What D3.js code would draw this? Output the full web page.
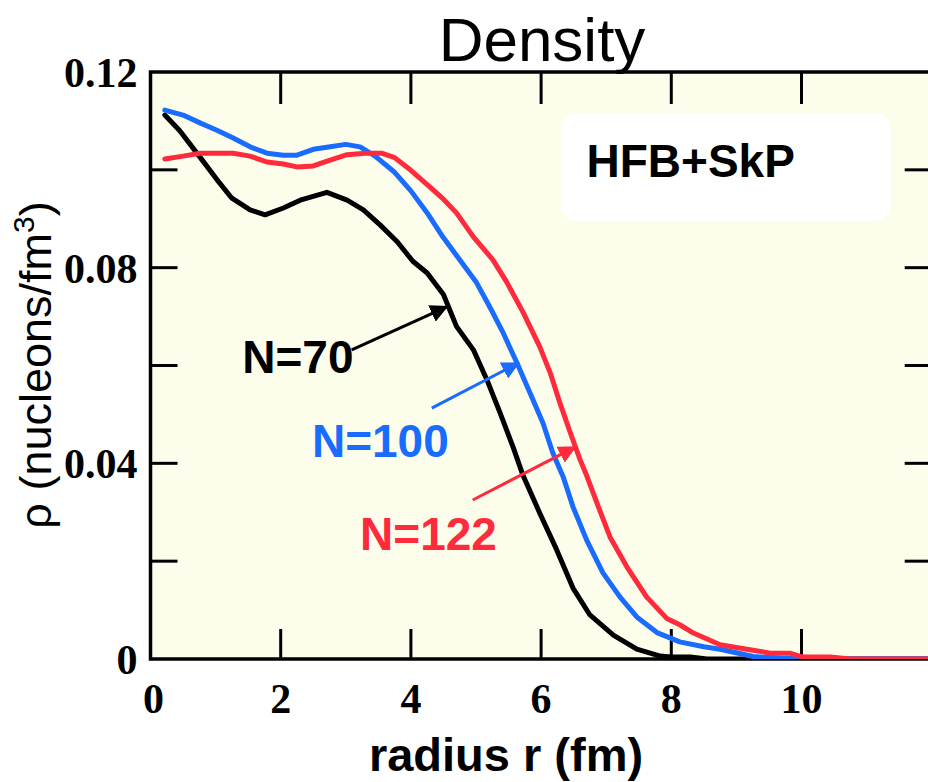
<!DOCTYPE html>
<html>
<head>
<meta charset="utf-8">
<script src="https://cdn.jsdelivr.net/npm/d3@7"></script>
<style>
  body { margin: 0; background: #ffffff; }
  svg { display: block; }
</style>
</head>
<body>
<div id="density_chart"></div>
<script>
// radius (fm) and density (nucleons/fm^3)
var rN70   = [0.22,0.45,0.76,1.02,1.25,1.53,1.76,2.04,2.3,2.71,3.02,3.27,3.53,3.79,4.03,4.25,4.5,4.7,4.96,5.17,5.37,5.57,5.72,5.98,6.24,6.49,6.75,7.11,7.47,7.83,8.0,8.29,8.55,9,10,11,12];
var rhoN70 = [0.1112,0.108,0.1026,0.098,0.0942,0.0918,0.0908,0.0922,0.0938,0.0954,0.0938,0.0918,0.0887,0.0853,0.0813,0.0789,0.0745,0.068,0.0632,0.057,0.0503,0.0433,0.0376,0.0298,0.0223,0.0145,0.009,0.0049,0.002,0.0006,0.0004,0.0004,0,0,0,0,0];

var rN100   = [0.22,0.5,0.76,1.02,1.27,1.53,1.79,2.04,2.25,2.5,2.76,3.0,3.22,3.45,3.75,4.0,4.27,4.49,4.75,5.01,5.21,5.42,5.63,5.83,6.03,6.18,6.34,6.49,6.7,6.95,7.21,7.47,7.78,8.13,8.5,8.75,9.26,9.67,10.2,11,12];
var rhoN100 = [0.1122,0.1112,0.1096,0.1081,0.1065,0.1047,0.1034,0.103,0.103,0.1042,0.1047,0.1052,0.1047,0.1028,0.0995,0.0957,0.0908,0.0863,0.0816,0.0769,0.072,0.0666,0.0605,0.0544,0.0482,0.0421,0.0372,0.0311,0.0243,0.0176,0.0127,0.0086,0.0054,0.0035,0.0025,0.002,0.0005,0.0002,0,0,0];

var rN122   = [0.22,0.5,0.76,1.02,1.27,1.53,1.79,2.04,2.25,2.5,2.76,3.02,3.3,3.55,3.75,3.99,4.29,4.5,4.7,4.96,5.26,5.47,5.73,5.98,6.14,6.29,6.45,6.6,6.7,6.86,7.06,7.32,7.62,7.93,8.13,8.34,8.75,9.16,9.52,9.82,10.02,10.44,10.75,11,12];
var rhoN122 = [0.1022,0.1028,0.1034,0.1034,0.1034,0.1028,0.1016,0.1012,0.1006,0.1008,0.102,0.1031,0.1034,0.1034,0.1025,0.1,0.0965,0.094,0.0912,0.0863,0.0816,0.0771,0.0707,0.0638,0.0585,0.0523,0.0462,0.0407,0.0375,0.0318,0.0249,0.0188,0.0127,0.0083,0.007,0.0053,0.0029,0.002,0.0012,0.0012,0.0004,0.0004,0,0,0];

var seriesNames  = ["N=70", "N=100", "N=122"];
var xTicks       = [0, 2, 4, 6, 8, 10];
var yTickLabels  = [0, 0.04, 0.08, 0.12];
var yTicks       = [0.02, 0.04, 0.06, 0.08, 0.10];

// label anchor and arrow (from -> tip), in data units
var labelPos  = [[1.41, 0.0585], [2.48, 0.0413], [3.22, 0.0223]];
var arrowFrom = [[3.09, 0.0632], [4.32, 0.0513], [4.95, 0.0325]];
var arrowTip  = [[4.55, 0.0720], [5.65, 0.0605], [6.52, 0.0433]];

//Margin
const margin = { top: 72, left: 150.5 };
const width = 781.2;
const height = 587;

var colors = ["#000000", "#1a6cff", "#ff2a3c"];

var xScale = d3.scaleLinear().domain([0, 12]).range([0, width]);
var yScale = d3.scaleLinear().domain([0, 0.12]).range([height, 0]);

const svg = d3.select("#density_chart")
              .append("svg")
               .attr("width", 928)
               .attr("height", 782);

var defs = svg.append("defs");
defs.append("clipPath")
     .attr("id", "plotClip")
    .append("rect")
     .attr("width", width)
     .attr("height", height);

colors.forEach(function(c, i) {
	defs.append("marker")
	     .attr("id", "head" + i)
	     .attr("viewBox", "0 0 10 10")
	     .attr("refX", 9)
	     .attr("refY", 5)
	     .attr("markerWidth", 6)
	     .attr("markerHeight", 6)
	     .attr("markerUnits", "strokeWidth")
	     .attr("orient", "auto")
	    .append("path")
	     .attr("d", "M0,0 L10,5 L0,10 z")
	     .attr("fill", c);
});

var g = svg.append("g")
           .attr("transform", "translate(" + margin.left + "," + margin.top + ")");

// plot background
g.append("rect")
  .attr("width", width)
  .attr("height", height)
  .attr("fill", "#fdfdec");

// inward ticks on all four sides
var tickLen = 27;
g.selectAll(".xtickB").data(xTicks.slice(1)).enter().append("line")
  .attr("x1", function(d) { return xScale(d); }).attr("x2", function(d) { return xScale(d); })
  .attr("y1", height).attr("y2", height - tickLen - 3)
  .attr("stroke", "#000").attr("stroke-width", 3);
g.selectAll(".xtickT").data(xTicks.slice(1)).enter().append("line")
  .attr("x1", function(d) { return xScale(d); }).attr("x2", function(d) { return xScale(d); })
  .attr("y1", 0).attr("y2", tickLen + 5)
  .attr("stroke", "#000").attr("stroke-width", 3);
g.selectAll(".ytickL").data(yTicks).enter().append("line")
  .attr("x1", 0).attr("x2", tickLen)
  .attr("y1", function(d) { return yScale(d); }).attr("y2", function(d) { return yScale(d); })
  .attr("stroke", "#000").attr("stroke-width", 3);
g.selectAll(".ytickR").data(yTicks).enter().append("line")
  .attr("x1", width).attr("x2", width - tickLen)
  .attr("y1", function(d) { return yScale(d); }).attr("y2", function(d) { return yScale(d); })
  .attr("stroke", "#000").attr("stroke-width", 3);

// frame
g.append("rect")
  .attr("width", width)
  .attr("height", height)
  .attr("fill", "none")
  .attr("stroke", "#000")
  .attr("stroke-width", 3.5);

// tick labels
g.selectAll(".xlab").data(xTicks).enter().append("text")
  .attr("x", function(d) { return xScale(d) + (d == 0 ? 3 : 0); })
  .attr("y", height + 54)
  .attr("text-anchor", "middle")
  .attr("font-family", "Liberation Serif, serif")
  .attr("font-weight", "bold")
  .attr("font-size", 42)
  .text(function(d) { return d; });
g.selectAll(".ylab").data(yTickLabels).enter().append("text")
  .attr("x", -13)
  .attr("y", function(d) { return yScale(d) + 15; })
  .attr("text-anchor", "end")
  .attr("font-family", "Liberation Serif, serif")
  .attr("font-weight", "bold")
  .attr("font-size", 42)
  .text(function(d) { return d == 0 ? "0" : d3.format(".2f")(d); });

// HFB+SkP box
g.append("rect")
  .attr("x", 411).attr("y", 41)
  .attr("width", 329).attr("height", 108)
  .attr("rx", 15)
  .attr("fill", "#ffffff");
g.append("text")
  .attr("x", 436).attr("y", 105)
  .attr("font-family", "Liberation Sans, Arial, sans-serif")
  .attr("font-weight", "bold")
  .attr("font-size", 46)
  .text("HFB+SkP");

// density curves
var series = [
	d3.zip(rN70, rhoN70),
	d3.zip(rN100, rhoN100),
	d3.zip(rN122, rhoN122)
];
var line = d3.line()
             .x(function(d) { return xScale(d[0]); })
             .y(function(d) { return yScale(d[1]); });

g.append("g")
  .attr("clip-path", "url(#plotClip)")
  .selectAll("path")
  .data(series)
  .enter()
  .append("path")
   .attr("d", line)
   .attr("fill", "none")
   .attr("stroke", function(d, i) { return colors[i]; })
   .attr("stroke-width", 5)
   .attr("stroke-linejoin", "round")
   .attr("stroke-linecap", "round");

// annotation arrows and labels
seriesNames.forEach(function(name, i) {
	g.append("line")
	  .attr("x1", xScale(arrowFrom[i][0])).attr("y1", yScale(arrowFrom[i][1]))
	  .attr("x2", xScale(arrowTip[i][0])).attr("y2", yScale(arrowTip[i][1]))
	  .attr("stroke", colors[i])
	  .attr("stroke-width", 3)
	  .attr("marker-end", "url(#head" + i + ")");
	g.append("text")
	  .attr("x", xScale(labelPos[i][0]))
	  .attr("y", yScale(labelPos[i][1]))
	  .attr("font-family", "Liberation Sans, Arial, sans-serif")
	  .attr("font-weight", "bold")
	  .attr("font-size", 46)
	  .attr("fill", colors[i])
	  .text(name);
});

// titles
svg.append("text")
   .attr("x", 542).attr("y", 61)
   .attr("text-anchor", "middle")
   .attr("font-family", "Liberation Sans, Arial, sans-serif")
   .attr("font-size", 62)
   .text("Density");
svg.append("text")
   .attr("x", 506).attr("y", 771)
   .attr("text-anchor", "middle")
   .attr("font-family", "Liberation Sans, Arial, sans-serif")
   .attr("font-weight", "bold")
   .attr("font-size", 47)
   .text("radius r (fm)");
var yLab = svg.append("text")
   .attr("transform", "translate(51,365) rotate(-90)")
   .attr("text-anchor", "middle")
   .attr("font-family", "Liberation Sans, Arial, sans-serif")
   .attr("font-size", 45);
yLab.append("tspan").text("\u03c1 (nucleons/fm");
yLab.append("tspan").attr("dy", -17).attr("font-size", 30).text("3");
yLab.append("tspan").attr("dy", 17).text(")");
</script>
</body>
</html>
